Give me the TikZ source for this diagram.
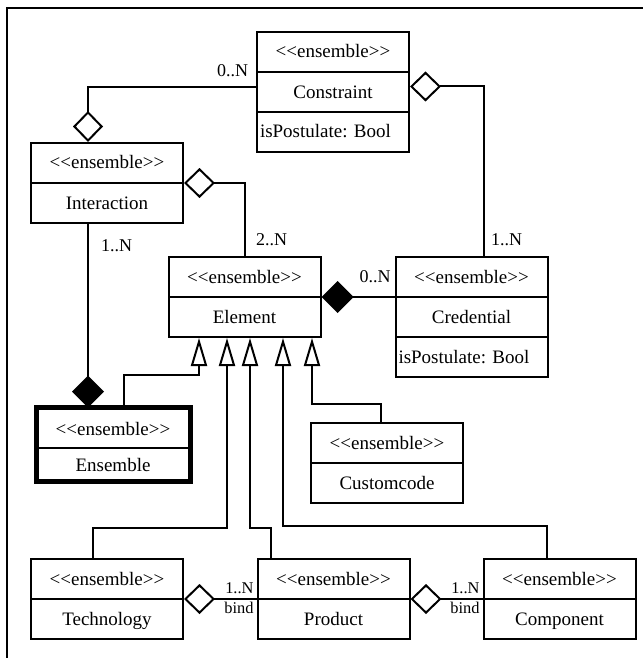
\documentclass[tikz,border=0pt]{standalone}
\usepackage{fontspec}
\setmainfont{Liberation Serif}
\usepackage{tikz}
\usetikzlibrary{shapes.multipart, arrows.meta, calc, positioning}

\frenchspacing
\newcommand{\cstrut}{\rule[-6.5pt]{0pt}{19pt}}
\newcommand{\stereo}{<{}<ensemble>{}>}

\begin{document}
\begin{tikzpicture}[x=0.5pt, y=-0.5pt, line width=1pt,
	every node/.style={font=\fontsize{9.5}{11}\selectfont},
	umlclass/.style={draw, rectangle split, rectangle split parts=#1, text width=76pt, inner xsep=0pt, inner ysep=0pt, align=center, anchor=north},
	umlclass/.default=2,
	mult/.style={inner sep=0pt, font=\fontsize{9}{10}\selectfont},
	bindlabel/.style={inner sep=0pt, font=\fontsize{8.2}{9}\selectfont, anchor=base east},
	aggr/.style={{Diamond[open, length=15.5pt, width=15pt]}-},
	comp/.style={{Diamond[length=16pt, width=16pt]}-},
	gen/.style={-{Triangle[open, length=14pt, width=8pt]}}]
		
		\useasboundingbox (0,0) rectangle (643,658);
		\draw (7,658) -- (7,8) -- (643,8);
		
		%//classes
		\node[umlclass=3] (Constraint) at (333,31) {\cstrut\stereo \nodepart{two}\cstrut Constraint \nodepart{three}\cstrut\makebox[76pt][l]{\hspace{1.5pt}isPostulate: Bool}};
		\node[umlclass] (Interaction) at (107,142) {\cstrut\stereo \nodepart{two}\cstrut Interaction};
		\node[umlclass] (Element) at (244.5,256) {\cstrut\stereo \nodepart{two}\cstrut Element};
		\node[umlclass=3] (Credential) at (471.5,256) {\cstrut\stereo \nodepart{two}\cstrut Credential \nodepart{three}\cstrut\makebox[76pt][l]{\hspace{1.5pt}isPostulate: Bool}};
		\node[umlclass] (Ensemble) at (113,407.5) {\rule[-6pt]{0pt}{18.75pt}\stereo \nodepart{two}\rule[-4pt]{0pt}{15.25pt}Ensemble};
		\draw[line width=2.5pt] (Ensemble.south west) rectangle (Ensemble.north east);
		\node[umlclass] (Customcode) at (387,422) {\cstrut\stereo \nodepart{two}\cstrut Customcode};
		\node[umlclass] (Technology) at (107,558) {\cstrut\stereo \nodepart{two}\cstrut Technology};
		\node[umlclass] (Product) at (333.5,558) {\cstrut\stereo \nodepart{two}\cstrut Product};
		\node[umlclass] (Component) at (559.5,558) {\cstrut\stereo \nodepart{two}\cstrut Component};
		
		%//associations
		\draw[aggr] ($(Interaction.north)+(-19,0)$) |- ($(Constraint.west)+(0,-4.5)$);
		\draw[aggr] ($(Constraint.east)+(0,-5.5)$) -| ($(Credential.north)+(12.5,0)$);
		\draw[aggr] (Interaction.east) -| (Element.north);
		\draw[comp] ($(Ensemble.north)+(-25,0)$) -- ($(Interaction.south)+(-19,0)$);
		\draw[comp] (Element.east) -- (Element.east -| Credential.west);
		\draw[aggr] (Technology.east) -- (Product.west);
		\draw[aggr] (Product.east) -- (Component.west);
		
		%//generalizations
		\foreach \cls/\sx/\gx/\gy in {Ensemble/11/-45.5/37, Technology/-14/-17.5/190, Product/-62.5/5.5/190, Component/-12.5/38.5/188, Customcode/-6/67.5/66}
		\draw[gen] ($(\cls.north)+(\sx,0)$) |- ($(Element.south)+(\gx,\gy)$) -- ($(Element.south)+(\gx,0)$);
		
		%//multiplicities
		\node[mult, anchor=base east] (mCons) at ($(Constraint.west)+(-7,-15.5)$) {0..N};
		\node[mult, anchor=base west] (mInter) at ($(Interaction.south)+(-7,27)$) {1..N};
		\node[mult, anchor=base west] (mElem) at ($(Element.north)+(10.5,-11)$) {2..N};
		\node[mult, anchor=base west] (mCredTop) at ($(Credential.north)+(18.5,-11)$) {1..N};
		\node[mult, anchor=base east] (mCredLeft) at ($(Credential.north west)+(-3,26)$) {0..N};
		
		\node[bindlabel] (mProd) at ($(Product.west)+(-2,-5.5)$) {1..N};
		\node[bindlabel] (bProd) at ($(Product.west)+(-2,14.5)$) {bind};
		\node[bindlabel] (mComp) at ($(Component.west)+(-2,-5.5)$) {1..N};
		\node[bindlabel] (bComp) at ($(Component.west)+(-2,14.5)$) {bind};
		
		\end{tikzpicture}
\end{document}
